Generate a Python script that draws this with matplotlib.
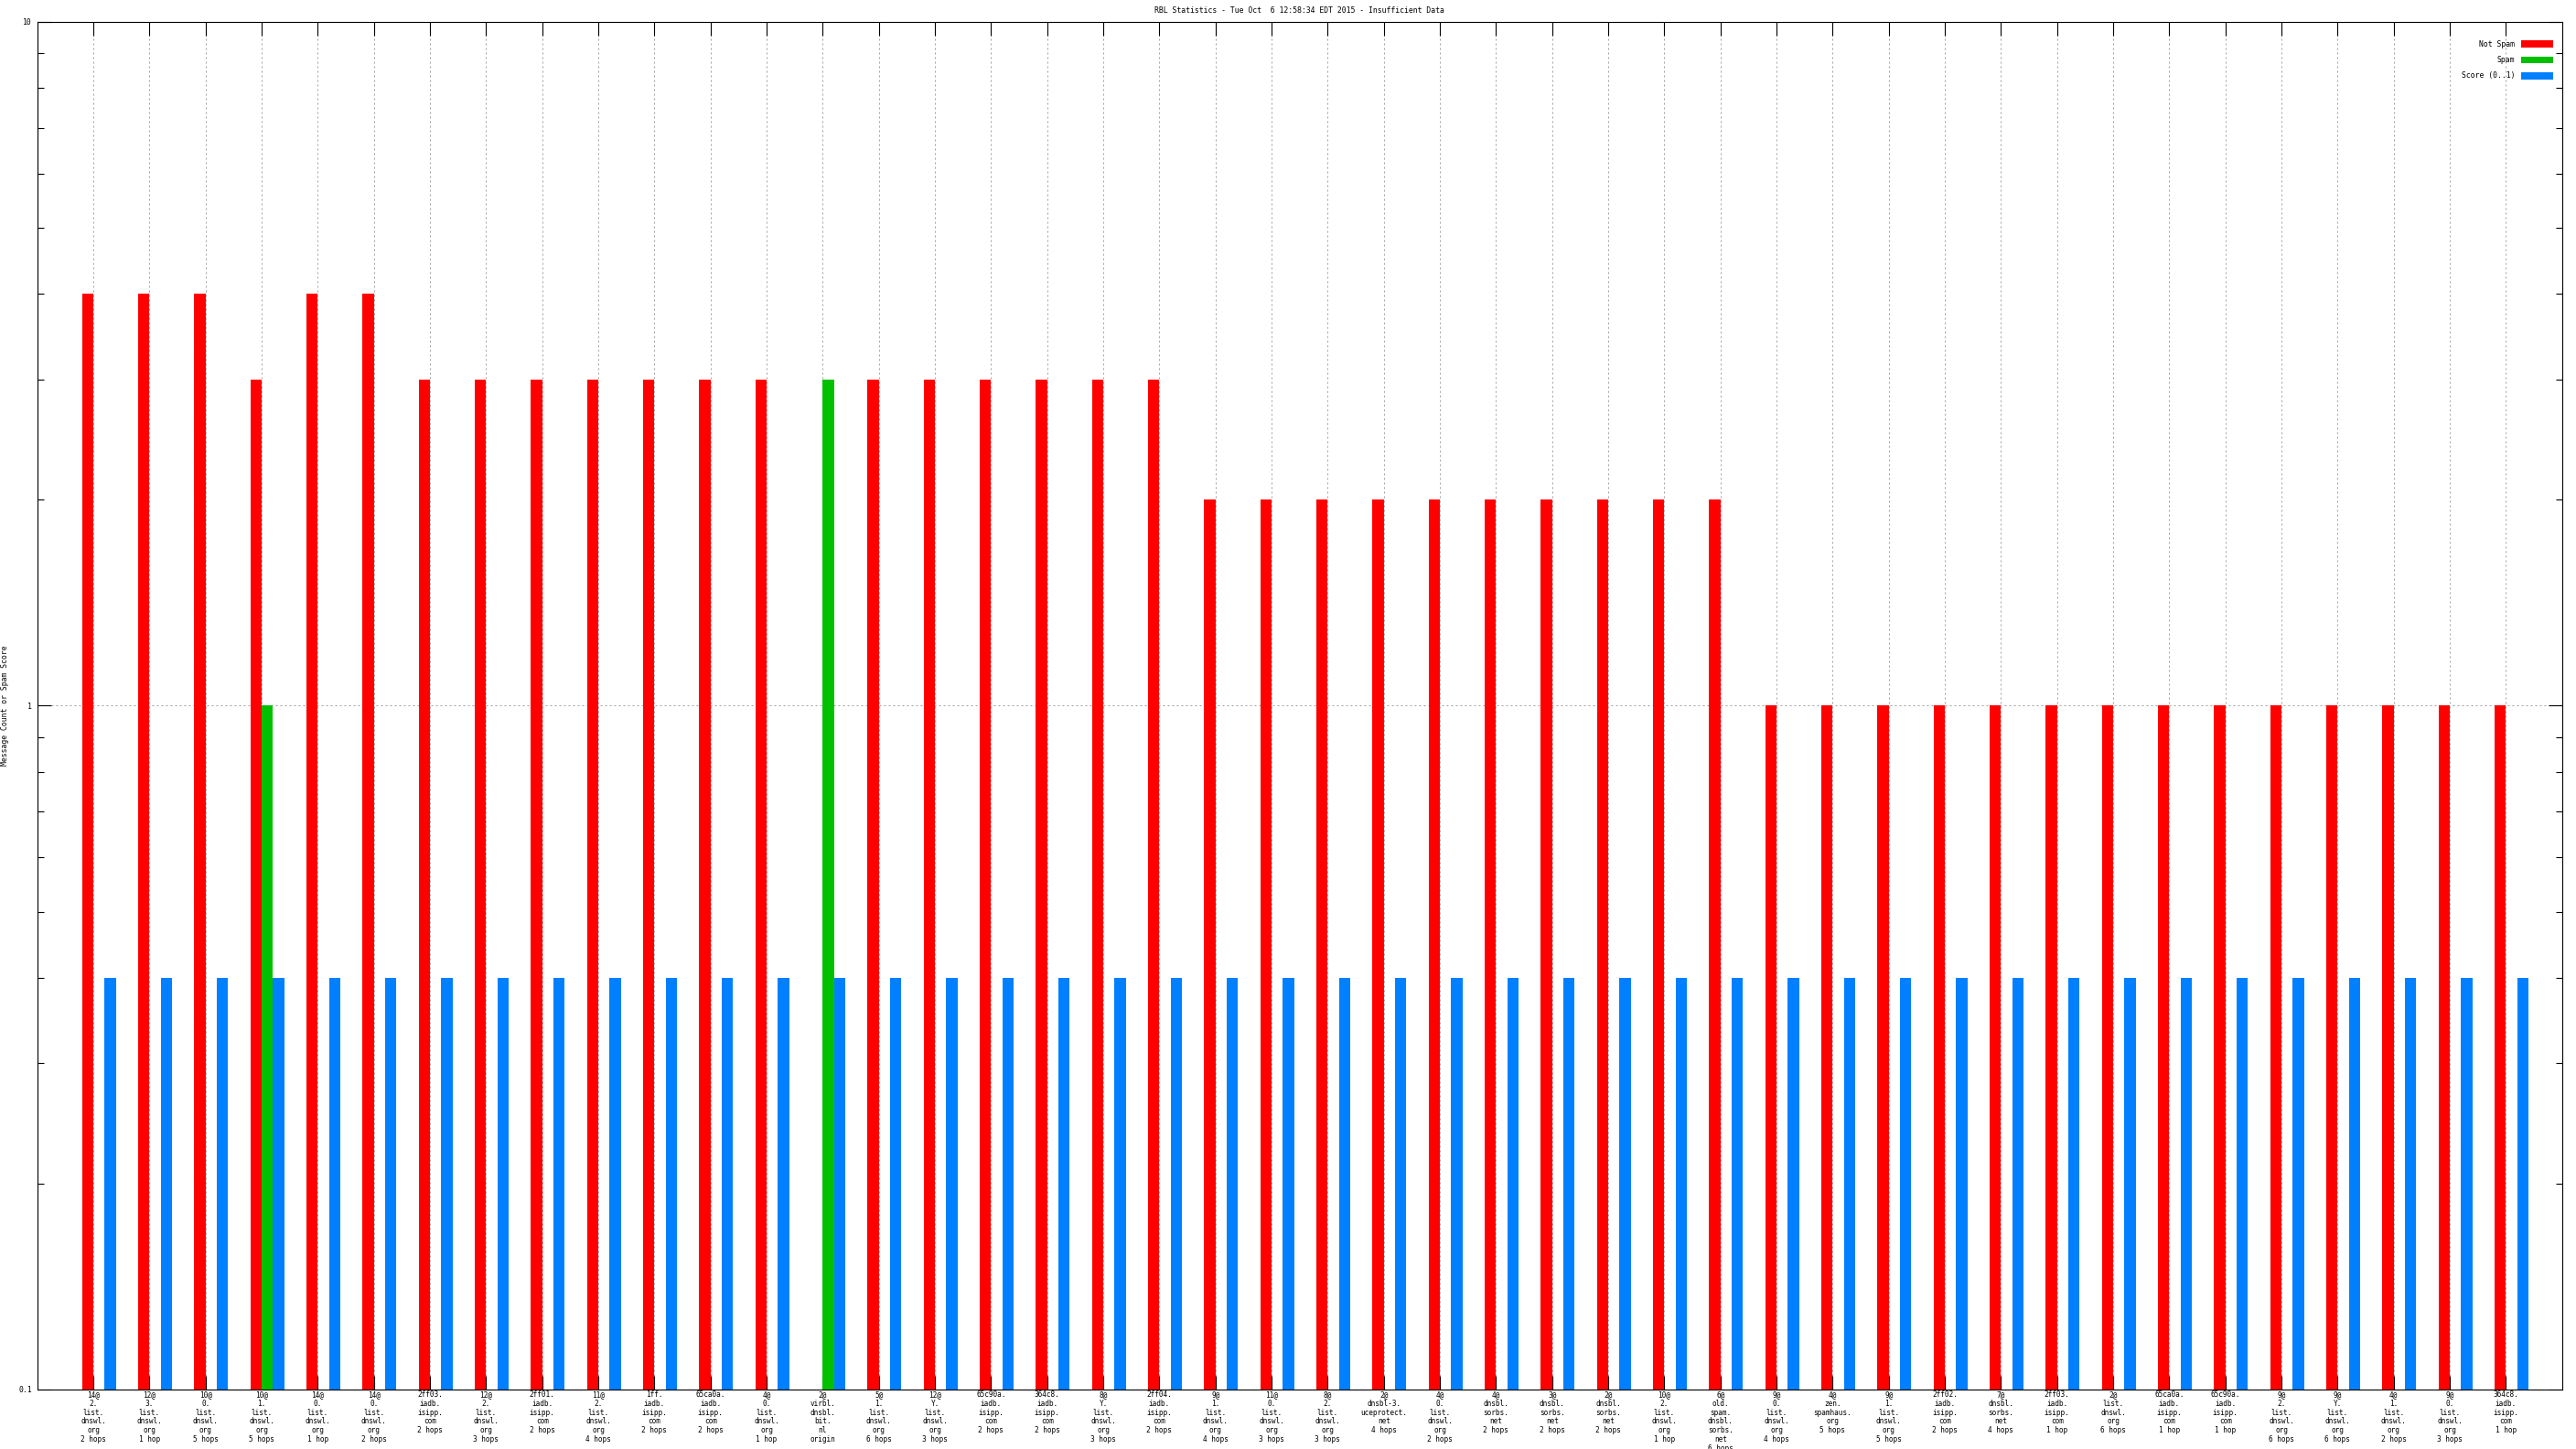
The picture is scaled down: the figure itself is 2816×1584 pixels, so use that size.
import matplotlib
matplotlib.use('Agg')
import matplotlib.pyplot as plt
import numpy as np
from matplotlib.ticker import LogLocator, FixedLocator, NullFormatter

labels = [
    "14@\n2.\nlist.\ndnswl.\norg\n2 hops",
    "12@\n3.\nlist.\ndnswl.\norg\n1 hop",
    "10@\n0.\nlist.\ndnswl.\norg\n5 hops",
    "10@\n1.\nlist.\ndnswl.\norg\n5 hops",
    "14@\n0.\nlist.\ndnswl.\norg\n1 hop",
    "14@\n0.\nlist.\ndnswl.\norg\n2 hops",
    "2ff03.\niadb.\nisipp.\ncom\n2 hops",
    "12@\n2.\nlist.\ndnswl.\norg\n3 hops",
    "2ff01.\niadb.\nisipp.\ncom\n2 hops",
    "11@\n2.\nlist.\ndnswl.\norg\n4 hops",
    "1ff.\niadb.\nisipp.\ncom\n2 hops",
    "65ca0a.\niadb.\nisipp.\ncom\n2 hops",
    "4@\n0.\nlist.\ndnswl.\norg\n1 hop",
    "2@\nvirbl.\ndnsbl.\nbit.\nnl\norigin",
    "5@\n1.\nlist.\ndnswl.\norg\n6 hops",
    "12@\nY.\nlist.\ndnswl.\norg\n3 hops",
    "65c90a.\niadb.\nisipp.\ncom\n2 hops",
    "364c8.\niadb.\nisipp.\ncom\n2 hops",
    "8@\nY.\nlist.\ndnswl.\norg\n3 hops",
    "2ff04.\niadb.\nisipp.\ncom\n2 hops",
    "9@\n1.\nlist.\ndnswl.\norg\n4 hops",
    "11@\n0.\nlist.\ndnswl.\norg\n3 hops",
    "8@\n2.\nlist.\ndnswl.\norg\n3 hops",
    "2@\ndnsbl-3.\nuceprotect.\nnet\n4 hops",
    "4@\n0.\nlist.\ndnswl.\norg\n2 hops",
    "4@\ndnsbl.\nsorbs.\nnet\n2 hops",
    "3@\ndnsbl.\nsorbs.\nnet\n2 hops",
    "2@\ndnsbl.\nsorbs.\nnet\n2 hops",
    "10@\n2.\nlist.\ndnswl.\norg\n1 hop",
    "6@\nold.\nspam.\ndnsbl.\nsorbs.\nnet\n6 hops",
    "9@\n0.\nlist.\ndnswl.\norg\n4 hops",
    "4@\nzen.\nspamhaus.\norg\n5 hops",
    "9@\n1.\nlist.\ndnswl.\norg\n5 hops",
    "2ff02.\niadb.\nisipp.\ncom\n2 hops",
    "7@\ndnsbl.\nsorbs.\nnet\n4 hops",
    "2ff03.\niadb.\nisipp.\ncom\n1 hop",
    "2@\nlist.\ndnswl.\norg\n6 hops",
    "65ca0a.\niadb.\nisipp.\ncom\n1 hop",
    "65c90a.\niadb.\nisipp.\ncom\n1 hop",
    "9@\n2.\nlist.\ndnswl.\norg\n6 hops",
    "9@\nY.\nlist.\ndnswl.\norg\n6 hops",
    "4@\n1.\nlist.\ndnswl.\norg\n2 hops",
    "9@\n0.\nlist.\ndnswl.\norg\n3 hops",
    "364c8.\niadb.\nisipp.\ncom\n1 hop",
]

not_spam = [4, 4, 4, 3, 4, 4, 3, 3, 3, 3, 3, 3, 3, 0, 3, 3, 3, 3, 3, 3,
            2, 2, 2, 2, 2, 2, 2, 2, 2, 2,
            1, 1, 1, 1, 1, 1, 1, 1, 1, 1, 1, 1, 1, 1]
spam = [0, 0, 0, 1, 0, 0, 0, 0, 0, 0, 0, 0, 0, 3, 0, 0, 0, 0, 0, 0,
        0, 0, 0, 0, 0, 0, 0, 0, 0, 0,
        0, 0, 0, 0, 0, 0, 0, 0, 0, 0, 0, 0, 0, 0]
score = [0.4] * 44

title = "RBL Statistics - Tue Oct  6 12:58:34 EDT 2015 - Insufficient Data"
ymin, ymax = 0.1, 10

plt.rcParams['font.family'] = ['DejaVu Sans Mono']
fs = 5.9

fig = plt.figure(figsize=(28.16, 15.84), dpi=100)
ax = fig.add_axes([0.01445, 0.04104, 0.98012, 0.94381])

x = np.arange(1, len(labels) + 1)
w = 0.2
series = [(not_spam, '#ff0000', 'Not Spam', -0.1),
          (spam, '#00c000', 'Spam', 0.1),
          (score, '#0080ff', 'Score (0..1)', 0.3)]
for vals, col, name, off in series:
    vals = np.array(vals, dtype=float)
    m = vals > 0
    ax.bar(x[m] + off, vals[m] - ymin, width=w, bottom=ymin, color=col,
           label=name, linewidth=0)

ax.set_yscale('log')
ax.set_ylim(ymin, ymax)
ax.set_xlim(0, len(labels) + 1)

ax.set_xticks(x)
ax.set_xticklabels(labels, fontsize=5.6, linespacing=1.1)
ax.yaxis.set_major_locator(FixedLocator([0.1, 1, 10]))
ax.set_yticklabels(['0.1', '1', '10'], fontsize=fs)
ax.yaxis.set_minor_locator(LogLocator(base=10, subs=np.arange(2, 10)))
ax.yaxis.set_minor_formatter(NullFormatter())

ax.tick_params(axis='x', which='major', direction='in', length=10.8, width=0.8,
               top=True, bottom=True, pad=1)
ax.tick_params(axis='y', which='major', direction='in', length=10.8, width=0.8,
               left=True, right=True, pad=4)
ax.tick_params(axis='y', which='minor', direction='in', length=5, width=0.8,
               left=True, right=True)

ax.set_axisbelow(True)
ax.grid(True, axis='x', which='major', color='#a0a0a0', linewidth=0.72,
        dashes=(2, 3))
ax.grid(True, axis='y', which='major', color='#a0a0a0', linewidth=0.72,
        dashes=(2, 3))
for s in ax.spines.values():
    s.set_linewidth(0.8)

fig.text(6 / 2816, 0.5129, "Message Count or Spam Score", rotation=90,
         ha='center', va='center', fontsize=fs)
fig.text(0.5045, 1 - 11 / 1584, title, ha='center', va='center', fontsize=fs)

ax.legend(loc='upper right', bbox_to_anchor=(0.9965, 0.9866), frameon=False,
          markerfirst=False, fontsize=fs, borderpad=0, borderaxespad=0,
          handlelength=4.3, handleheight=1.1, labelspacing=1.0,
          handletextpad=0.8)

fig.savefig('out.png', dpi=100)
